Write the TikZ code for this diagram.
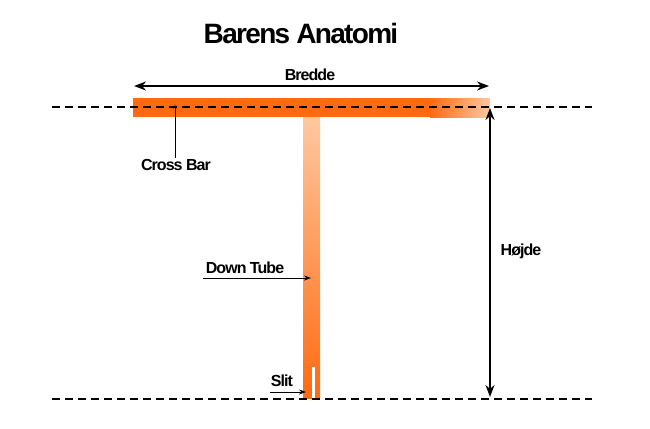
\documentclass[tikz,border=0pt]{standalone}
\usepackage{fontspec}
\setmainfont{Liberation Sans}
\usetikzlibrary{arrows.meta}
\definecolor{barorange}{HTML}{FF6A10}
\definecolor{barlight}{HTML}{FFC8A0}
\tikzset{
  lbl/.style={font=\bfseries\fontsize{16}{18}\selectfont, inner sep=1pt},
  guide/.style={line width=2.2pt, dash pattern=on 8pt off 5pt},
  dim/.style={line width=1.8pt, {Stealth[length=12pt,width=9pt]}-{Stealth[length=12pt,width=9pt]}},
  ptr/.style={line width=0.8pt, -{Stealth[length=7pt,width=5pt]}},
}
\begin{document}
\begin{tikzpicture}[x=1pt,y=-1pt]
\useasboundingbox (0,0) rectangle (650,428);
% title
\node[font=\bfseries\fontsize{28}{32}\selectfont] (title) at (301,33) {\addfontfeature{LetterSpace=-6}Barens Anatomi};
% cross bar
\fill[barorange] (133,98) rectangle (431,117);
\shade[left color=barorange, right color=barlight] (430,98) rectangle (490,117);
% down tube
\shade[top color=barlight, bottom color=barorange] (303,117) rectangle (320,398);
\fill[white] (311.5,367) rectangle (314.5,399);
% guide lines
\coordinate (tl) at (52,107); \coordinate (tr) at (592,107);
\coordinate (bl) at (52,399); \coordinate (br) at (592,399);
\draw[guide] (tl) -- (tr);
\draw[guide] (bl) -- (br);
% Bredde
\coordinate (bw1) at (134,86); \coordinate (bw2) at (489,86);
\draw[dim] (bw1) -- (bw2);
\node[lbl] (bredde) at (310,75) {\addfontfeature{LetterSpace=-6}Bredde};
% Hojde
\coordinate (h1) at (490,108); \coordinate (h2) at (490,397);
\draw[dim] (h1) -- (h2);
\node[lbl] (hojde) at (521,251) {\addfontfeature{LetterSpace=-6}Højde};
% Cross Bar
\node[lbl] (cb) at (176,165) {\addfontfeature{LetterSpace=-6}Cross Bar};
\coordinate (cbp) at (175,107);
\draw[line width=0.8pt] (cb.north -| cbp) -- (cbp);
\node[font=\fontsize{10}{10}\selectfont, inner sep=0pt] (star) at (cbp) {$\star$};
% Down Tube
\node[lbl] (dt) at (245,268) {\addfontfeature{LetterSpace=-6}Down Tube};
\coordinate (dtp) at (311,278);
\draw[ptr] (203,278) -- (dtp);
% Slit
\node[lbl] (slit) at (282,381) {\addfontfeature{LetterSpace=-6}Slit};
\coordinate (slp) at (306,392);
\draw[ptr] (270,392) -- (slp);
\end{tikzpicture}
\end{document}
